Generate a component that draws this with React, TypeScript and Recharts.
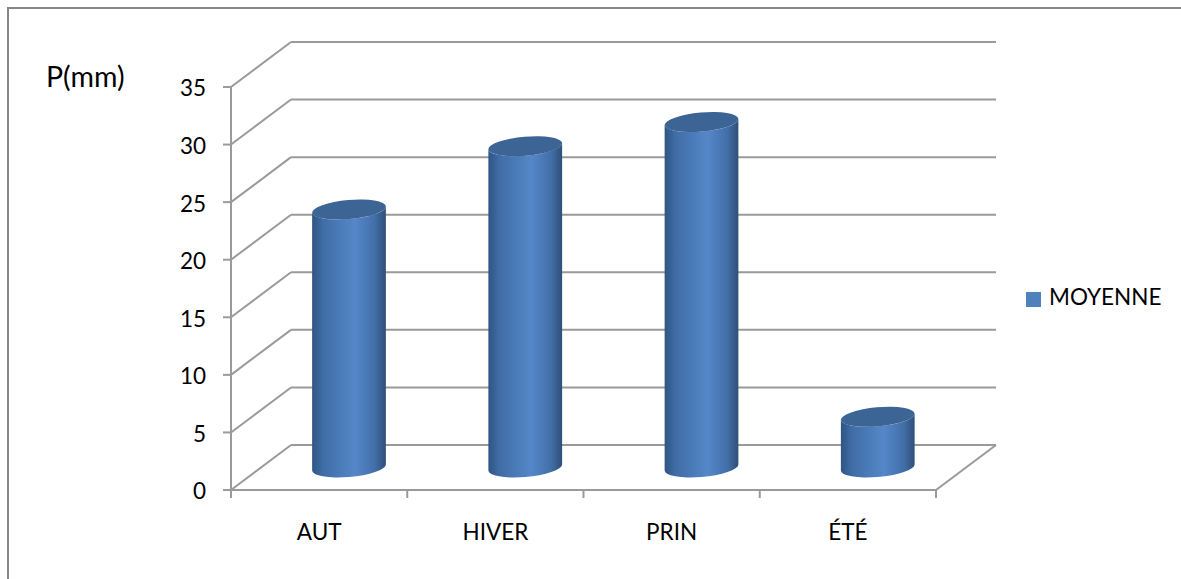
import React from 'react';
import { BarChart, Bar, XAxis, YAxis, CartesianGrid, Legend, ReferenceLine } from 'recharts';

const seasons = ['AUT', 'HIVER', 'PRIN', 'ÉTÉ'];
const moyenne = [22.4, 27.9, 30, 4.4];
const yTicks = [0, 5, 10, 15, 20, 25, 30, 35];

const chartData = seasons.map((season, i) => ({ season, moyenne: moyenne[i] }));

const FONT = 'Lato, sans-serif';
const AXIS_GRAY = '#9a9a9a';
const LABEL_SIZE = 22.5;

// depth of the fake 3D box
const DEPTH_X = 60;
const DEPTH_Y = 45;

const WallLine = ({ x1, y1, x2, y2 }: any) => (
  <g stroke={AXIS_GRAY} strokeWidth={2} fill="none">
    <line x1={x1} y1={y1} x2={x1 + DEPTH_X} y2={y1 - DEPTH_Y} />
    <line x1={x1 + DEPTH_X} y1={y2 - DEPTH_Y} x2={x2 + DEPTH_X} y2={y2 - DEPTH_Y} />
  </g>
);

const FloorEdge = ({ x2, y2 }: any) => (
  <line x1={x2} y1={y2} x2={x2 + DEPTH_X} y2={y2 - DEPTH_Y} stroke={AXIS_GRAY} strokeWidth={2} />
);

// Tilted ellipse: returns the two points where the outline is leftmost and rightmost
const TILT = (-5 * Math.PI) / 180;
const RY = 9.5;
const ellipseEnds = (cx: number, cy: number, rx: number) => {
  const t = Math.atan(-(RY / rx) * Math.tan(TILT));
  const dx = rx * Math.cos(t) * Math.cos(TILT) - RY * Math.sin(t) * Math.sin(TILT);
  const dy = rx * Math.cos(t) * Math.sin(TILT) + RY * Math.sin(t) * Math.cos(TILT);
  return { lx: cx - dx, ly: cy - dy, rx: cx + dx, ry: cy + dy };
};

const Cylinder = ({ x, y, width, height }: any) => {
  const cx = x + width / 2 + DEPTH_X / 2;
  const rx = width / 2;
  const topY = y - DEPTH_Y / 2;
  const baseY = y + height - DEPTH_Y / 2;
  const top = ellipseEnds(cx, topY, rx);
  const base = ellipseEnds(cx, baseY, rx);
  const rot = (TILT * 180) / Math.PI;
  const body =
    `M${top.lx},${top.ly} L${base.lx},${base.ly} ` +
    `A${rx},${RY} ${rot} 0 0 ${base.rx},${base.ry} ` +
    `L${top.rx},${top.ry} ` +
    `A${rx},${RY} ${rot} 0 1 ${top.lx},${top.ly} Z`;
  return (
    <g>
      <path d={body} fill="url(#cylinderBody)" />
      <ellipse cx={cx} cy={topY} rx={rx} ry={RY} fill="#3c6595" transform={`rotate(${rot} ${cx} ${topY})`} />
    </g>
  );
};

// Label plus the tick marks, which sit on the band edges and not the band centre
const SeasonTick = ({ x, y, payload, index }: any) => {
  const half = payload.offset;
  return (
    <g>
      <line x1={x - half} y1={y} x2={x - half} y2={y + 8} stroke={AXIS_GRAY} strokeWidth={2} />
      {index === seasons.length - 1 && (
        <line x1={x + half} y1={y} x2={x + half} y2={y + 8} stroke={AXIS_GRAY} strokeWidth={2} />
      )}
      <text x={x} y={y + 50} textAnchor="middle" fontFamily={FONT} fontSize={LABEL_SIZE} fill="#000">
        {payload.value}
      </text>
    </g>
  );
};

export default function App() {
  return (
    <div style={{ position: 'absolute', left: 0, top: 0, width: 1181, height: 579, background: '#fff', overflow: 'hidden' }}>
      <div
        style={{
          position: 'absolute',
          left: 7,
          top: 7,
          width: 1174,
          height: 572,
          borderLeft: '2px solid #868686',
          borderTop: '2px solid #868686',
        }}
      />
      <div style={{ position: 'absolute', left: 0, top: 0 }}>
        <BarChart
          width={1181}
          height={579}
          data={chartData}
          margin={{ top: 87, right: 95, bottom: 0, left: 0 }}
        >
          <defs>
            <linearGradient id="cylinderBody" x1="0" y1="0" x2="1" y2="0">
              <stop offset="0%" stopColor="#2f5583" />
              <stop offset="15%" stopColor="#3f6da6" />
              <stop offset="58%" stopColor="#5587c9" />
              <stop offset="85%" stopColor="#426fa8" />
              <stop offset="100%" stopColor="#2f4f78" />
            </linearGradient>
          </defs>
          <CartesianGrid vertical={false} horizontal={(props: any) => <WallLine key={props.key} {...props} />} />
          <XAxis
            dataKey="season"
            height={89}
            interval={0}
            tickLine={false}
            tickMargin={0}
            tickSize={0}
            axisLine={{ stroke: AXIS_GRAY, strokeWidth: 2 }}
            tick={SeasonTick}
          />
          <YAxis
            width={231}
            domain={[0, 35]}
            ticks={yTicks}
            interval={0}
            tickSize={8}
            tickMargin={17}
            axisLine={{ stroke: AXIS_GRAY, strokeWidth: 2 }}
            tickLine={{ stroke: AXIS_GRAY, strokeWidth: 2 }}
            tick={{ fill: '#000', fontSize: LABEL_SIZE, fontFamily: FONT, dy: 1.5 }}
          />
          <ReferenceLine y={0} shape={FloorEdge} />
          <Legend
            layout="vertical"
            align="right"
            verticalAlign="middle"
            iconType="square"
            iconSize={15}
            wrapperStyle={{ position: 'absolute', left: 1026, top: 283, width: 150, fontFamily: FONT, fontSize: LABEL_SIZE }}
            formatter={(value: string) => <span style={{ color: '#000', marginLeft: 4 }}>{value}</span>}
          />
          <text x={46} y={87} fontFamily={FONT} fontSize={28.5} fill="#000">
            P(mm)
          </text>
          <Bar
            name="MOYENNE"
            dataKey="moyenne"
            fill="#4f81bd"
            barSize={74}
            shape={Cylinder}
            isAnimationActive={false}
          />
        </BarChart>
      </div>
    </div>
  );
}
